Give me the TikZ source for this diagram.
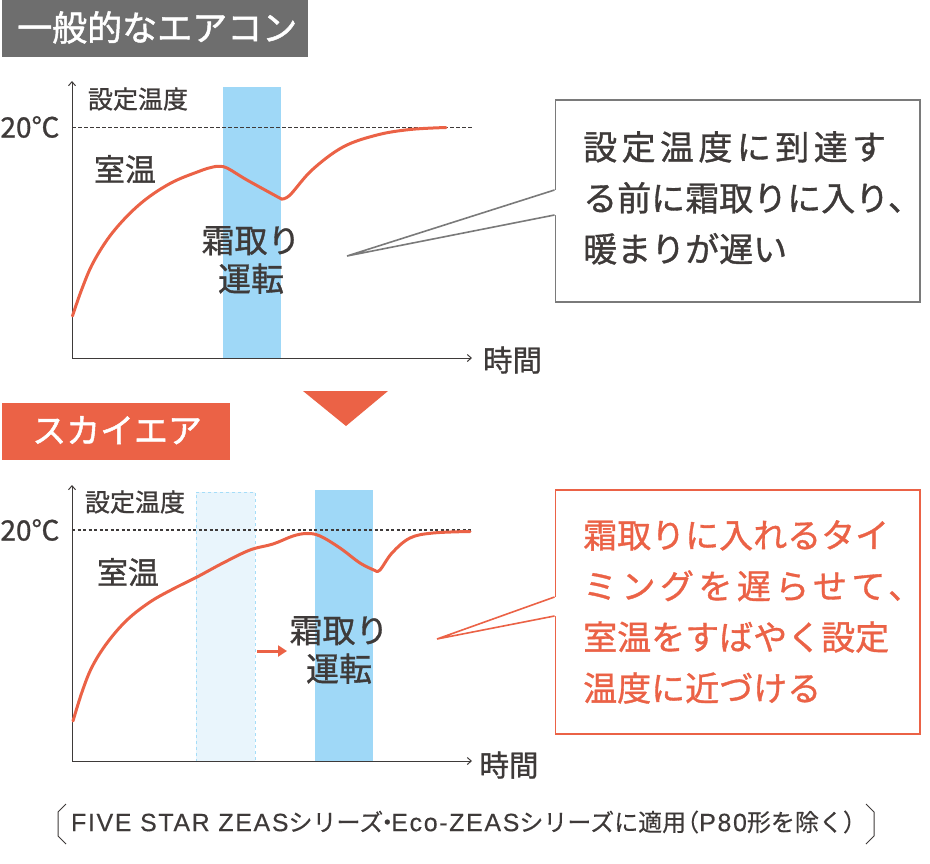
\documentclass[tikz,border=0pt]{standalone}
\usepackage{fontspec}
\usetikzlibrary{arrows.meta}
\setmainfont[FakeBold=1]{Noto Sans CJK JP}
\newfontfamily\widefont[LetterSpace=13,FakeBold=1]{Noto Sans CJK JP}
\newfontfamily\headfont[FakeBold=1.4]{Noto Sans CJK JP}
\newfontfamily\latinfont[LetterSpace=6.5,FakeBold=0.3]{Liberation Sans}
\newfontfamily\notefont[FakeBold=0.4]{Noto Sans CJK JP}
\newcommand{\notelatin}[1]{{\latinfont\fontsize{25}{25}\selectfont #1}}
\definecolor{inkgray}{HTML}{3E3A39}
\definecolor{headgray}{HTML}{6E6E6E}
\definecolor{linegray}{HTML}{7A7A7A}
\definecolor{coral}{HTML}{EB6246}
\definecolor{skyband}{HTML}{9FD8F7}
\definecolor{paleband}{HTML}{E9F5FC}
\definecolor{paledash}{HTML}{A5DDF8}
\tikzset{
  header/.style={inner sep=0pt,anchor=north west,text=white},
  axisline/.style={draw=inkgray,line width=1pt,-{Straight Barb[length=4pt,width=7pt]}},
  room/.style={draw=coral,line width=3pt,line join=round,line cap=round},
  label/.style={inner sep=0pt,text=inkgray,font=\fontsize{25}{25}\selectfont},
  roomlabel/.style={inner sep=0pt,text=inkgray,font=\fontsize{31}{31}\selectfont},
  timelabel/.style={inner sep=0pt,text=inkgray,font=\fontsize{29.5}{29.5}\selectfont},
  templabel/.style={inner sep=0pt,text=inkgray,font=\fontsize{28}{28}\selectfont},
  mode/.style={inner sep=0pt,text=inkgray,align=center,font=\fontsize{33}{38.5}\selectfont},
  band/.style={fill=skyband,draw=none,inner sep=0pt,anchor=north west},
  callout/.style={fill=white,line width=1.6pt,inner sep=0pt,anchor=north west},
  callouttext/.style={inner sep=0pt,anchor=north west,align=left,font=\fontsize{34}{51}\selectfont},
}
\begin{document}
\begin{tikzpicture}[x=1pt,y=-1pt]
  \useasboundingbox (0,0) rectangle (930,863);
  % upper chart
  \node[header,fill=headgray,minimum width=306pt,minimum height=57pt] (headA) at (2,0) {};
  \node[header,font=\headfont\fontsize{35}{35}\selectfont] (headAtext) at (17,11) {一般的なエアコン};
  \node[band,minimum width=58.5pt,minimum height=271pt] (bandA) at (222.5,87) {};
  \coordinate (oA) at (72,358);
  \coordinate (yA) at (72,81);
  \coordinate (xA) at (472,358);
  \coordinate (setA) at (72,127);
  \coordinate (setAend) at (473,127);
  \draw[axisline] (oA)--(yA);
  \draw[axisline] (oA)--(xA);
  \draw[inkgray,line width=0.8pt,dash pattern=on 3.5pt off 2.5pt] (setA)--(setAend);
  \draw[room] plot[smooth,tension=0.6] coordinates {(72.5,316) (81.5,290) (93.5,262) (113,232) (140,204)
    (170,183.5) (200,171) (213,167) (220,166.3) (228,168.5) (247,180) (281.5,199)};
  \draw[room] plot[smooth,tension=0.6] coordinates {(281.5,199) (290,195) (312,170) (343,147) (377,135)
    (410,129.5) (446,127.5)};
  \node[label] (setlabelA) at (138,99) {設定温度};
  \node[roomlabel] (roomlabelA) at (125,169) {室温};
  \node[templabel] (tempA) at (30,127) {20℃};
  \node[mode] (modeA) at (251,260) {霜取り\\運転};
  \node[timelabel] (timeA) at (512.5,360) {時間};
  \node[callout,draw=linegray,minimum width=364.6pt,minimum height=202pt] (boxA) at (554.5,99) {};
  \node[callouttext,text=inkgray] (textA) at (583,131)
    {{\widefont 設定温度に到達す}\\る前に霜取りに入り、\\暖まりが遅い};
  \coordinate (tipA) at (347,256);
  \coordinate (tipAu) at (554.5,190);
  \coordinate (tipAd) at (554.5,215);
  \fill[white] (tipAu)--(tipA)--(tipAd)--([xshift=2pt]tipAd)--([xshift=2pt]tipAu)--cycle;
  \draw[linegray,line width=1.6pt,line join=bevel] (tipAu)--(tipA)--(tipAd);
  % arrow between charts
  \coordinate (triL) at (303,391);
  \coordinate (triR) at (388,391);
  \coordinate (triB) at (346,426);
  \fill[coral] (triL)--(triR)--(triB)--cycle;
  % lower chart
  \node[header,fill=coral,minimum width=228pt,minimum height=57pt] (headB) at (2,403) {};
  \node[header,font=\headfont\fontsize{34}{34}\selectfont] (headBtext) at (32,416) {スカイエア};
  \node[band,fill=paleband,draw=paledash,dashed,line width=0.7pt,minimum width=59pt,minimum height=269pt] (oldband) at (196,492) {};
  \node[band,minimum width=58.5pt,minimum height=271pt] (bandB) at (314.5,490) {};
  \coordinate (oB) at (72,761);
  \coordinate (yB) at (72,485);
  \coordinate (xB) at (472,761);
  \coordinate (setB) at (72,530);
  \coordinate (setBend) at (473,530);
  \draw[axisline] (oB)--(yB);
  \draw[axisline] (oB)--(xB);
  \draw[inkgray,line width=1.2pt,dash pattern=on 3pt off 2.5pt] (setB)--(setBend);
  \draw[room] plot[smooth,tension=0.6] coordinates {(73,721) (82,692) (92,667) (107,643) (127,620) (150,602)
    (173,589) (197,577) (223,563) (250,550) (273,544) (293,536) (307,533.5) (320,536) (340,548) (360,563) (375,570.5)};
  \draw[room] plot[smooth,tension=0.6] coordinates {(375,570.5) (380,570) (392,553) (410,538) (433,533) (470,531.5)};
  \node[label] (setlabelB) at (135,502) {設定温度};
  \node[roomlabel] (roomlabelB) at (128,572) {室温};
  \node[templabel] (tempB) at (30,530) {20℃};
  \node[mode] (modeB) at (339,650) {霜取り\\運転};
  \node[timelabel] (timeB) at (509,765) {時間};
  \coordinate (shiftL) at (257,651);
  \coordinate (shiftR) at (287,651);
  \draw[coral,line width=3pt,-{Triangle[length=9pt,width=11pt]}] (shiftL)--(shiftR);
  \node[callout,draw=coral,minimum width=364.6pt,minimum height=244.4pt] (boxB) at (554.5,489) {};
  \node[callouttext,text=coral] (textB) at (583,520)
    {霜取りに入れるタイ\\{\widefont ミングを遅らせて、}\\室温をすばやく設定\\温度に近づける};
  \coordinate (tipB) at (437,639);
  \coordinate (tipBu) at (554.5,597);
  \coordinate (tipBd) at (554.5,616);
  \fill[white] (tipBu)--(tipB)--(tipBd)--([xshift=2pt]tipBd)--([xshift=2pt]tipBu)--cycle;
  \draw[coral,line width=1.6pt,line join=bevel] (tipBu)--(tipB)--(tipBd);
  % note
  \node[inner sep=0pt,text=inkgray,font=\notefont\fontsize{24}{24}\selectfont] (note) at (469,822)
    {\notelatin{FIVE STAR ZEAS}シリーズ\hspace{-8pt}・\hspace{-8pt}\notelatin{Eco-ZEAS}シリーズに適用\hspace{-11pt}（\notelatin{P80}形を除く）\hspace{-11pt}};
  \coordinate (bl1) at (66,804);
  \coordinate (bl2) at (58,812);
  \coordinate (bl3) at (58,836);
  \coordinate (bl4) at (66,844);
  \coordinate (br1) at (866,804);
  \coordinate (br2) at (874,812);
  \coordinate (br3) at (874,836);
  \coordinate (br4) at (866,844);
  \draw[inkgray,line width=1pt] (bl1)--(bl2)--(bl3)--(bl4);
  \draw[inkgray,line width=1pt] (br1)--(br2)--(br3)--(br4);
\end{tikzpicture}
\end{document}
